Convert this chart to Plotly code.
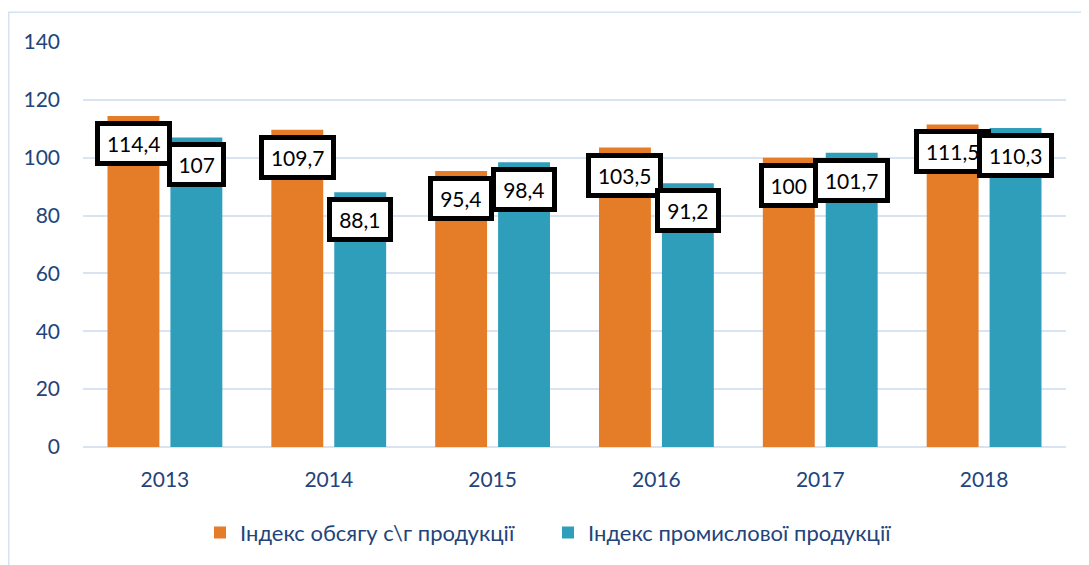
import plotly.graph_objects as go

years = ["2013", "2014", "2015", "2016", "2017", "2018"]
agri_index = [114.4, 109.7, 95.4, 103.5, 100, 111.5]
industry_index = [107, 88.1, 98.4, 91.2, 101.7, 110.3]
agri_labels = ["114,4", "109,7", "95,4", "103,5", "100", "111,5"]
industry_labels = ["107", "88,1", "98,4", "91,2", "101,7", "110,3"]
series_names = ["Індекс обсягу с\\г продукції", "Індекс промислової продукції"]
y_ticks = [0, 20, 40, 60, 80, 100, 120, 140]

ORANGE = "#E57D28"
TEAL = "#2F9EBB"
TXT = "#22447A"
GRID = "#D9E4F3"
FONT = "Lato, 'Open Sans', sans-serif"

# page has an 8px body margin; size the figure to fill the rest
W, H = 1081, 557
ML, MR, MT, MB = 75, 23, 34, 116

fig = go.Figure()
fig.add_trace(go.Bar(x=years, y=agri_index, name=series_names[0],
                     marker=dict(color=ORANGE, line=dict(width=0))))
fig.add_trace(go.Bar(x=years, y=industry_index, name=series_names[1],
                     marker=dict(color=TEAL, line=dict(width=0))))


def text_width(s):
    w = 0
    for ch in s:
        w += 6.2 if ch == "," else 11.8
    return w


annotations = []
for labels, vals, shift in ((agri_labels, agri_index, -31.5),
                            (industry_labels, industry_index, 31.5)):
    for i, (v, lab) in enumerate(zip(vals, labels)):
        annotations.append(dict(
            x=i, y=v, xref="x", yref="y", text=lab, showarrow=False,
            xshift=shift, yshift=-5, yanchor="top", xanchor="center",
            font=dict(family=FONT, size=21, color="#000000"),
            bgcolor="#FFFFFF", bordercolor="#000000", borderwidth=5,
            borderpad=5, width=text_width(lab) + 4,
        ))

pw = W - ML - MR
ph = H - MT - MB
frame = dict(type="rect", xref="paper", yref="paper",
             x0=(0.8 - ML) / pw, x1=(W + 10 - ML) / pw,
             y0=-(H + 10 - MT - ph) / ph, y1=(H - 4 - MB) / ph,
             line=dict(color="#D5E2F2", width=1.5), fillcolor="rgba(0,0,0,0)",
             layer="below")

fig.update_layout(
    width=W, height=H,
    margin=dict(l=ML, r=MR, t=MT, b=MB, pad=0),
    paper_bgcolor="#FFFFFF", plot_bgcolor="#FFFFFF",
    barmode="group", bargap=0.232, bargroupgap=0.175,
    font=dict(family=FONT, size=20, color=TXT),
    showlegend=True,
    legend=dict(orientation="h", x=(540 - ML) / pw, xanchor="center",
                y=-(527 - (H - MB)) / ph, yanchor="middle",
                font=dict(family=FONT, size=22, color=TXT),
                itemwidth=30, entrywidth=303, traceorder="normal"),
    annotations=annotations,
    shapes=[frame],
)
fig.update_yaxes(range=[0, 140], tickvals=y_ticks, showgrid=True,
                 gridcolor=GRID, gridwidth=2, zeroline=True,
                 zerolinecolor=GRID, zerolinewidth=2, showline=False,
                 ticks="", ticklabelstandoff=22,
                 tickfont=dict(family=FONT, size=21, color=TXT))
fig.update_xaxes(type="category", range=[-0.5, len(years) - 0.5],
                 showgrid=False, showline=False, ticks="",
                 ticklabelstandoff=18,
                 tickfont=dict(family=FONT, size=21, color=TXT))

fig.write_html("out.html")
